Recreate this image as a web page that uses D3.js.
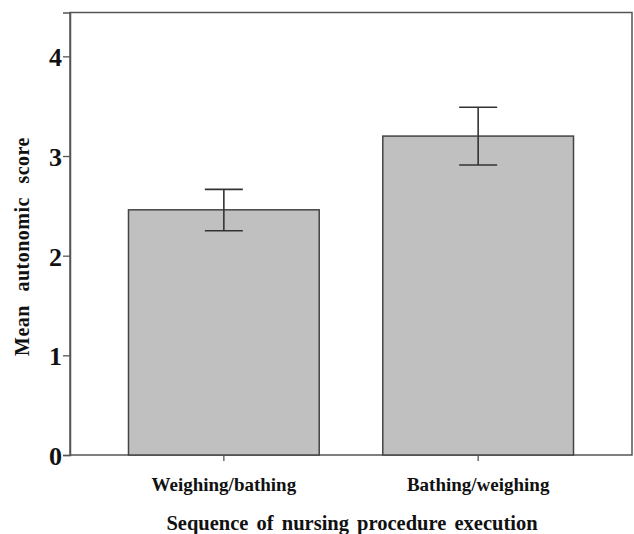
<!DOCTYPE html>
<html><head><meta charset="utf-8">
<script src="https://cdn.jsdelivr.net/npm/d3@7"></script>
<style>body{margin:0;background:#fff}svg{display:block}</style>
</head><body>
<svg id="c" width="634" height="534"></svg>
<script>
const categories = ["Weighing/bathing", "Bathing/weighing"];
const means = [2.46, 3.20];
const ciLow = [2.25, 2.91];
const ciHigh = [2.665, 3.49];
const yTicks = [0, 1, 2, 3, 4];

const svg = d3.select("#c");
const L = 70, R = 632, T = 12.5, B = 455;
const x = d3.scaleBand().domain(categories).range([L, R]).paddingInner(0.25).paddingOuter(0.23);
const y = d3.scaleLinear().domain([0, 4.44]).range([B, T]);
const font = "'Liberation Serif','Times New Roman',serif";

// frame
svg.append("rect").attr("x", L).attr("y", T).attr("width", R - L).attr("height", B - T)
  .attr("fill", "none").attr("stroke", "#555").attr("stroke-width", 1.5);

// bars
svg.selectAll("rect.bar").data(categories).enter().append("rect").attr("class", "bar")
  .attr("x", d => x(d)).attr("width", x.bandwidth())
  .attr("y", (d, i) => y(means[i])).attr("height", (d, i) => y(0) - y(means[i]))
  .attr("fill", "#c0c0c0").attr("stroke", "#444").attr("stroke-width", 1.5);

// error bars
const cap = 19;
categories.forEach((c, i) => {
  const cx = x(c) + x.bandwidth() / 2;
  const g = svg.append("g").attr("stroke", "#333").attr("stroke-width", 1.6);
  g.append("line").attr("x1", cx).attr("x2", cx).attr("y1", y(ciLow[i])).attr("y2", y(ciHigh[i]));
  g.append("line").attr("x1", cx - cap).attr("x2", cx + cap).attr("y1", y(ciLow[i])).attr("y2", y(ciLow[i]));
  g.append("line").attr("x1", cx - cap).attr("x2", cx + cap).attr("y1", y(ciHigh[i])).attr("y2", y(ciHigh[i]));
});

// y axis
const ya = svg.append("g").attr("transform", `translate(${L},0)`)
  .call(d3.axisLeft(y).tickValues(yTicks).tickFormat(d3.format("d")).tickSize(7).tickPadding(1));
ya.select(".domain").attr("stroke", "#555").attr("stroke-width", 1.5);
ya.selectAll(".tick line").attr("stroke", "#555").attr("stroke-width", 1.3);
ya.selectAll(".tick text").attr("font-family", font).attr("font-weight", "bold")
  .attr("font-size", 26).attr("fill", "#111").attr("dy", "0.36em");

// x axis
const xa = svg.append("g").attr("transform", `translate(0,${B})`)
  .call(d3.axisBottom(x).tickSize(6).tickPadding(17));
xa.select(".domain").remove();
xa.selectAll(".tick line").attr("stroke", "#555").attr("stroke-width", 1.3);
xa.selectAll(".tick text").attr("font-family", font).attr("font-weight", "bold")
  .attr("font-size", 19).attr("fill", "#111");

// axis titles
svg.append("text").attr("x", 352).attr("y", 530).attr("text-anchor", "middle")
  .attr("font-family", font).attr("font-weight", "bold").attr("font-size", 20.5)
  .attr("word-spacing", 3).attr("fill", "#111")
  .text("Sequence of nursing procedure execution");
svg.append("text").attr("transform", "translate(29,246.5) rotate(-90)").attr("text-anchor", "middle")
  .attr("font-family", font).attr("font-weight", "bold").attr("font-size", 20)
  .attr("word-spacing", 8).attr("letter-spacing", 0.5).attr("fill", "#111")
  .text("Mean autonomic score");
</script>
</body></html>
